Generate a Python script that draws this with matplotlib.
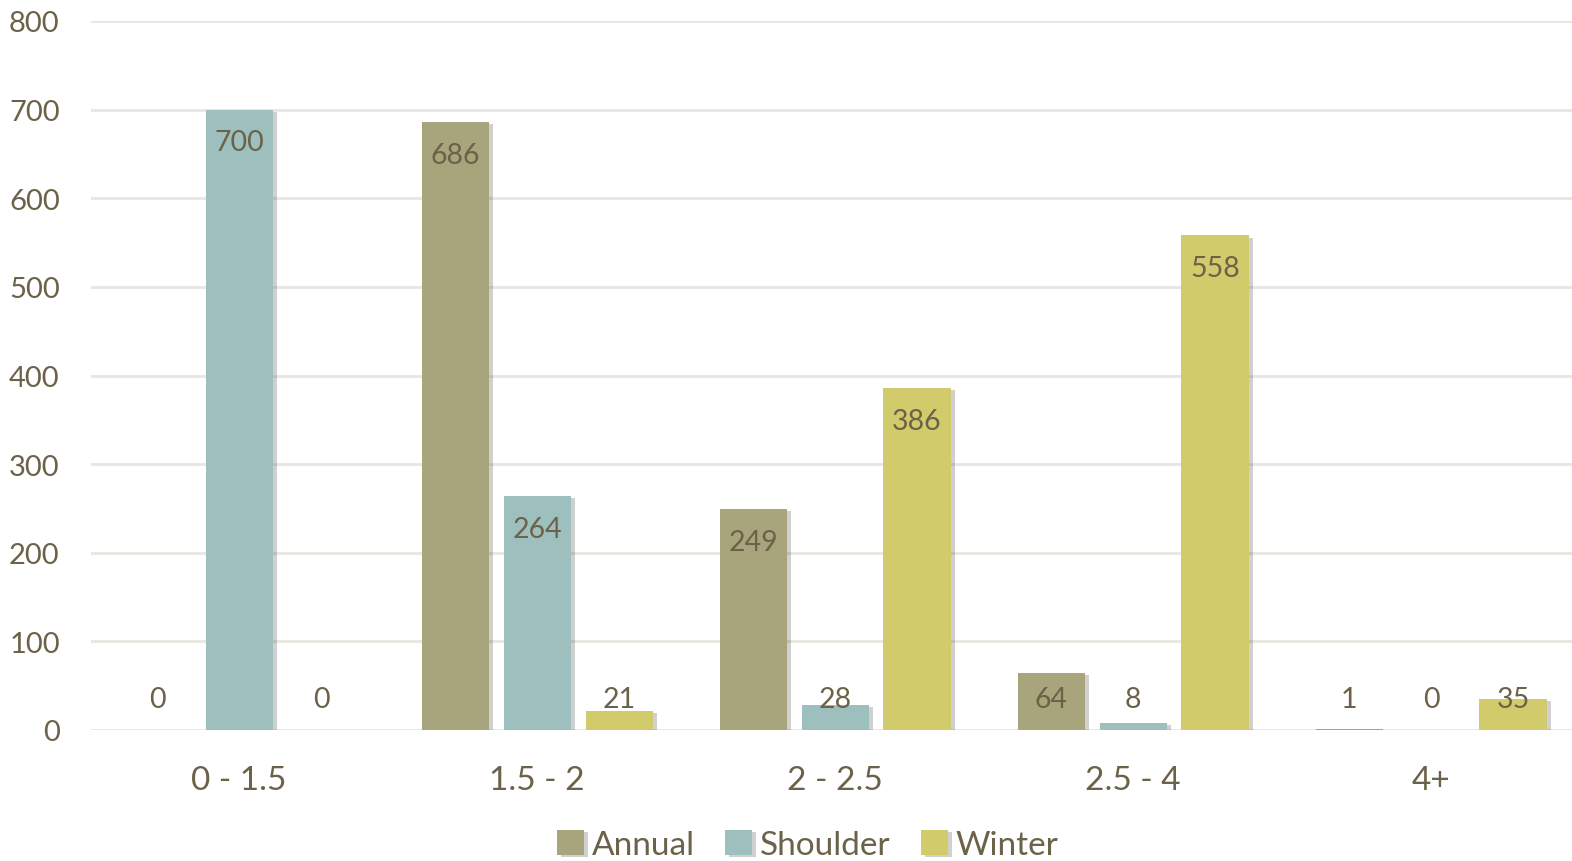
import matplotlib
matplotlib.use('Agg')
import matplotlib.pyplot as plt
import matplotlib.patheffects as pe
import numpy as np

plt.rcParams['font.family'] = ['Lato', 'DejaVu Sans']

''' Data '''
categories = ['0 - 1.5', '1.5 - 2', '2 - 2.5', '2.5 - 4', '4+']
series_names = ['Annual', 'Shoulder', 'Winter']
annual = [0, 686, 249, 64, 1]
shoulder = [700, 264, 28, 8, 0]
winter = [0, 21, 386, 558, 35]
yticks = [0, 100, 200, 300, 400, 500, 600, 700, 800]

colors = ['#a8a47b', '#9dbfbe', '#d2cb6b']
textcol = '#6b6249'

''' Plot '''
fig = plt.figure(figsize=(15.72, 8.62), dpi=100)
ax = fig.add_axes([91/1572, 1-731/862, 1-91/1572, (731-22)/862])

x = np.arange(len(categories))
width = 0.225
offsets = [-0.275, 0, 0.275]
shadow = [pe.SimplePatchShadow(offset=(3, -1.5), alpha=0.25, shadow_rgbFace='#444444'), pe.Normal()]

for vals, off, col, name in zip([annual, shoulder, winter], offsets, colors, series_names):
    bars = ax.bar(x+off, vals, width, color=col, label=name, zorder=3)
    for b in bars:
        b.set_path_effects(shadow)
    # labels inside end, but never below a minimum height
    for xi, v in zip(x+off, vals):
        ax.text(xi, max(v-37, 35), str(v), ha='center', va='center', fontsize=20.5, color=textcol, zorder=4)

ax.set_ylim(0, 800)
ax.set_xlim(-0.497, 4.473)
ax.set_yticks(yticks)
ax.yaxis.grid(True, color='#e8e6de', linewidth=2, zorder=0)
ax.set_axisbelow(True)
for s in ax.spines.values():
    s.set_visible(False)
ax.tick_params(left=False, bottom=False)
ax.set_yticklabels([str(t) for t in yticks], fontsize=21, color=textcol)
ax.tick_params(axis='y', pad=19)
ax.set_xticks(x)
ax.set_xticklabels(categories, fontsize=24, color=textcol)
ax.tick_params(axis='x', pad=22)

leg = fig.legend(loc='center', bbox_to_anchor=(808/1572, 1-846/862), ncol=3, frameon=False,
                 fontsize=24, handlelength=0.8, handleheight=0.8, handletextpad=0.25, columnspacing=0.9)
for t in leg.get_texts():
    t.set_color(textcol)

plt.savefig('out.png', dpi=100)
